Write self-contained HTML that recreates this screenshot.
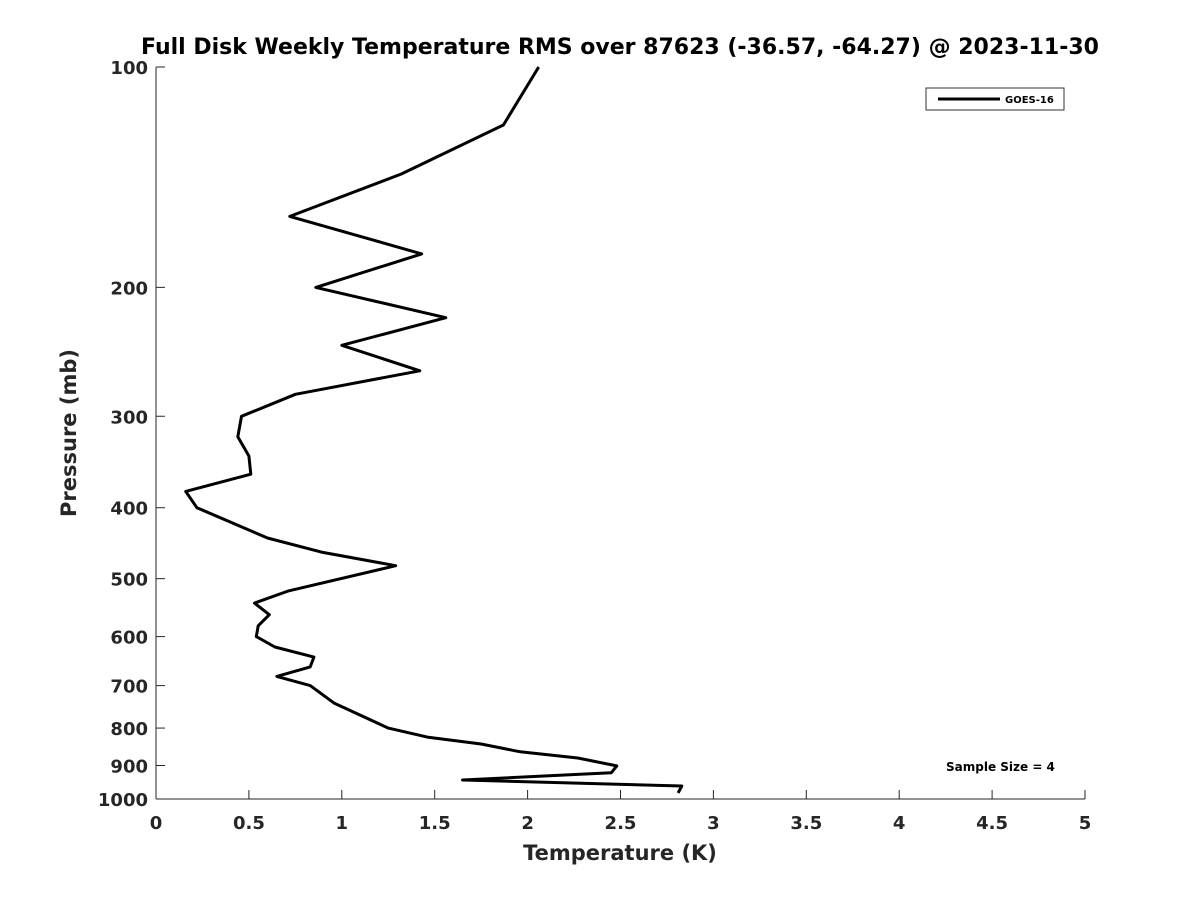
<!DOCTYPE html>
<html><head><meta charset="utf-8"><style>
body{margin:0;background:#fff;}
svg text{font-family:"DejaVu Sans","Liberation Sans",sans-serif;font-weight:bold;fill:#262626;}
</style></head><body>
<svg id="chart" width="1200" height="900" xmlns="http://www.w3.org/2000/svg">
<rect width="1200" height="900" fill="#fff"/>
<text x="620" y="54" text-anchor="middle" font-size="22" style="fill:#000">Full Disk Weekly Temperature RMS over 87623 (-36.57, -64.27) @ 2023-11-30</text>
<g id="axes"></g>
<path id="line" fill="none" stroke="#000" stroke-width="3" stroke-linejoin="round"/>
<g>
<rect x="926" y="88" width="138" height="22" fill="#fff" stroke="#333" stroke-width="1"/>
<line x1="938" y1="99" x2="1000" y2="99" stroke="#000" stroke-width="3"/>
<text x="1005" y="103" font-size="10" style="fill:#000">GOES-16</text>
</g>
<text x="946" y="771" font-size="12" style="fill:#000">Sample Size = 4</text>
<text x="620" y="860" text-anchor="middle" font-size="21">Temperature (K)</text>
<text transform="translate(76,433) rotate(-90)" text-anchor="middle" font-size="21">Pressure (mb)</text>
</svg>
<script>
const temps=[2.06,1.87,1.32,0.72,1.43,0.86,1.56,1.00,1.42,0.75,0.46,0.44,0.50,0.51,0.16,0.22,0.60,0.89,1.29,0.71,0.53,0.61,0.55,0.54,0.64,0.85,0.83,0.65,0.83,0.96,1.25,1.46,1.75,1.96,2.27,2.48,2.45,1.65,2.83,2.81];
const pressures=[100,120,140,160,180,200,220,240,260,280,300,320,340,360,380,400,440,460,480,520,540,560,580,600,620,640,660,680,700,740,800,823,841,862,879,901,921,942,960,981];
const xTicks=[0,0.5,1,1.5,2,2.5,3,3.5,4,4.5,5];
const xTickLabels=["0","0.5","1","1.5","2","2.5","3","3.5","4","4.5","5"];
const yTicks=[100,200,300,400,500,600,700,800,900,1000];
const yTickLabels=["100","200","300","400","500","600","700","800","900","1000"];
const X0=156,X1=1085,Y0=67,Y1=799;
const xs=v=>X0+(v-0)/(5-0)*(X1-X0);
const ys=p=>Y0+(Math.log10(p)-2)*(Y1-Y0);
const NS="http://www.w3.org/2000/svg";
const ax=document.getElementById('axes');
function mk(t,a,p){const e=document.createElementNS(NS,t);for(const k in a)e.setAttribute(k,a[k]);(p||ax).appendChild(e);return e;}
let l=mk('line',{x1:X0,y1:Y0,x2:X0,y2:Y1,stroke:'#262626','stroke-width':1});


l=mk('line',{x1:X0,y1:Y1,x2:X1,y2:Y1,stroke:'#262626','stroke-width':1});


xTicks.forEach((v,i)=>{const x=xs(v);
 mk('line',{x1:x,y1:Y1,x2:x,y2:Y1-9,stroke:'#262626','stroke-width':1});
 const t=mk('text',{x:x,y:Y1+30,'text-anchor':'middle','font-size':18});
 
 
 t.textContent=xTickLabels[i];});
yTicks.forEach((v,i)=>{const y=ys(v);
 mk('line',{x1:X0,y1:y,x2:X0+9,y2:y,stroke:'#262626','stroke-width':1});
 const t=mk('text',{x:X0-8,y:y+7,'text-anchor':'end','font-size':18});
 
 
 t.textContent=yTickLabels[i];});
document.getElementById('line').setAttribute('d',temps.map((t,i)=>(i?'L':'M')+xs(t).toFixed(1)+','+ys(pressures[i]).toFixed(1)).join(''));
</script>
</body></html>
